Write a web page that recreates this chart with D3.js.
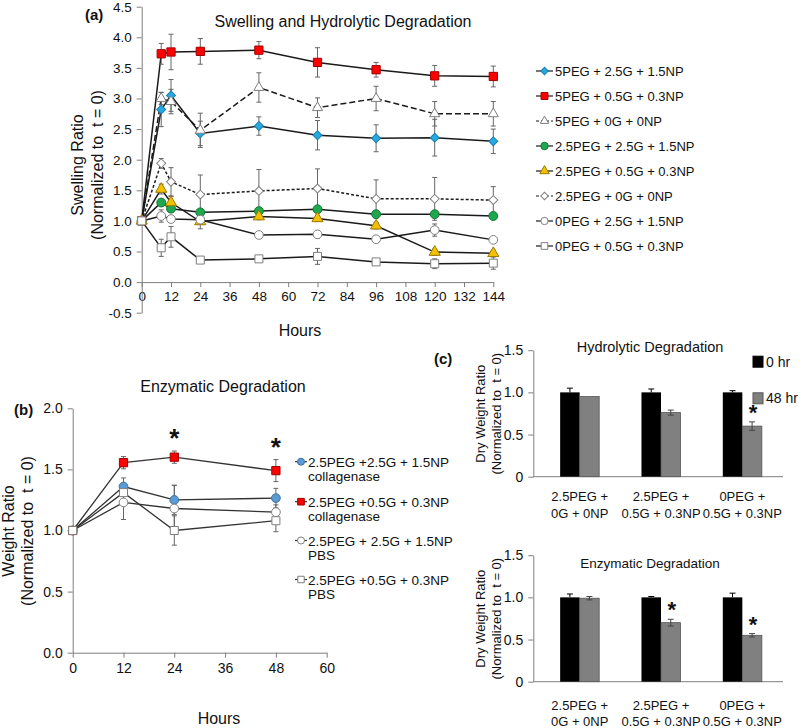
<!DOCTYPE html>
<html><head><meta charset="utf-8">
<script src="https://cdn.jsdelivr.net/npm/d3@7"></script>
<style>
body{margin:0;background:#fff;}
svg text{font-family:"Liberation Sans",Arial,sans-serif;fill:#111;}
</style></head><body>
<svg id="chart" width="800" height="728"></svg>
<script>
// ---------------- DATA ----------------
// Panel (a): swelling and hydrolytic degradation
const hoursA = [0, 8, 12, 24, 48, 72, 96, 120, 144];
const namesA = ["5PEG + 2.5G + 1.5NP", "5PEG + 0.5G + 0.3NP", "5PEG + 0G + 0NP",
  "2.5PEG + 2.5G + 1.5NP", "2.5PEG + 0.5G + 0.3NP", "2.5PEG + 0G + 0NP",
  "0PEG + 2.5G + 1.5NP", "0PEG + 0.5G + 0.3NP"];
const a_5PEG_25G = [1.0, 2.82, 3.05, 2.43, 2.55, 2.40, 2.35, 2.36, 2.30];
const a_5PEG_25G_err = [0, 0.28, 0.26, 0.20, 0.15, 0.24, 0.22, 0.30, 0.20];
const a_5PEG_05G = [1.0, 3.73, 3.76, 3.77, 3.79, 3.59, 3.47, 3.37, 3.36];
const a_5PEG_05G_err = [0, 0.17, 0.29, 0.21, 0.14, 0.24, 0.12, 0.17, 0.17];
const a_5PEG_0G = [1.0, 3.0, 2.95, 2.48, 3.18, 2.85, 3.0, 2.75, 2.75];
const a_5PEG_0G_err = [0, 0.10, 0.20, 0.28, 0.24, 0.16, 0.20, 0.20, 0.20];
const a_25PEG_25G = [1.0, 1.30, 1.20, 1.14, 1.16, 1.19, 1.11, 1.11, 1.08];
const a_25PEG_25G_err = [0, 0.05, 0.05, 0.05, 0.04, 0.05, 0.04, 0.04, 0.04];
const a_25PEG_05G = [1.0, 1.52, 1.30, 0.99, 1.07, 1.04, 0.92, 0.49, 0.47];
const a_25PEG_05G_err = [0, 0.08, 0.10, 0.12, 0.05, 0.05, 0.05, 0.05, 0.05];
const a_25PEG_0G = [1.0, 1.94, 1.64, 1.43, 1.49, 1.53, 1.36, 1.36, 1.34];
const a_25PEG_0G_err = [0, 0.08, 0.23, 0.32, 0.35, 0.32, 0.31, 0.35, 0.22];
const a_0PEG_25G = [1.0, 1.08, 1.03, 1.02, 0.77, 0.78, 0.70, 0.85, 0.69];
const a_0PEG_25G_err = [0, 0.10, 0.05, 0.05, 0.05, 0.06, 0.03, 0.10, 0.03];
const a_0PEG_05G = [1.0, 0.56, 0.74, 0.36, 0.38, 0.42, 0.33, 0.30, 0.31];
const a_0PEG_05G_err = [0, 0.14, 0.17, 0.04, 0.04, 0.13, 0.05, 0.08, 0.10];
const ticksAx = [0, 12, 24, 36, 48, 60, 72, 84, 96, 108, 120, 132, 144];
const ticksAy = [-0.5, 0, 0.5, 1, 1.5, 2, 2.5, 3, 3.5, 4, 4.5];

// Panel (b): enzymatic degradation
const hoursB = [0, 12, 24, 48];
const namesB = [["2.5PEG +2.5G + 1.5NP", "collagenase"], ["2.5PEG +0.5G + 0.3NP", "collagenase"],
  ["2.5PEG + 2.5G + 1.5NP", "PBS"], ["2.5PEG +0.5G + 0.3NP", "PBS"]];
const b_25G_col = [1.0, 1.36, 1.25, 1.265];
const b_25G_col_err = [0, 0.07, 0.12, 0.08];
const b_05G_col = [1.0, 1.555, 1.60, 1.49];
const b_05G_col_err = [0, 0.05, 0.05, 0.09];
const b_25G_pbs = [1.0, 1.23, 1.18, 1.15];
const b_25G_pbs_err = [0, 0.14, 0.19, 0.06];
const b_05G_pbs = [1.0, 1.31, 1.00, 1.08];
const b_05G_pbs_err = [0, 0.07, 0.12, 0.09];
const ticksBx = [0, 12, 24, 36, 48, 60];
const ticksBy = [0, 0.5, 1.0, 1.5, 2.0];
const starsB = [24, 48];

// Panel (c): dry weight ratio
const groupsC = [["2.5PEG +", "0G + 0NP"], ["2.5PEG +", "0.5G + 0.3NP"], ["0PEG +", "0.5G + 0.3NP"]];
const seriesC = ["0 hr", "48 hr"];
const hydro0 = [1.0, 1.0, 1.0];
const hydro0_err = [0.05, 0.04, 0.02];
const hydro48 = [0.95, 0.76, 0.60];
const hydro48_err = [0.005, 0.03, 0.05];
const enz0 = [1.0, 1.0, 1.0];
const enz0_err = [0.04, 0.01, 0.05];
const enz48 = [0.99, 0.70, 0.55];
const enz48_err = [0.02, 0.04, 0.02];
const hydroStars = [2];
const enzStars = [1, 2];
const ticksCy = [0, 0.5, 1.0, 1.5];

// ---------------- DRAW ----------------
const svg = d3.select("#chart");
const AX = "#7f7f7f";
const EB = "#666";

function styleAxis(g) {
  g.select(".domain").attr("stroke", AX).attr("stroke-width", 1);
  g.selectAll(".tick line").attr("stroke", AX).attr("stroke-width", 1);
  g.selectAll(".tick text").style("font-family", '"Liberation Sans",Arial,sans-serif').attr("fill", "#111");
}

function marker(sel, type, size, fill, stroke) {
  let s;
  if (type === "diamond" || type === "square") s = d3.symbol(d3.symbolSquare, size);
  else if (type === "triangle") s = d3.symbol(d3.symbolTriangle, size);
  else s = d3.symbol(d3.symbolCircle, size);
  sel.append("path").attr("d", s())
    .attr("fill", fill).attr("stroke", stroke).attr("stroke-width", 1)
    .attr("transform", type === "diamond" ? "rotate(45)" : null);
}

function errBar(g, x, y0, y1, color, cap, both) {
  g.append("line").attr("x1", x).attr("x2", x).attr("y1", y0).attr("y2", y1)
    .attr("stroke", color).attr("stroke-width", 1);
  g.append("line").attr("x1", x - cap).attr("x2", x + cap).attr("y1", y1).attr("y2", y1)
    .attr("stroke", color).attr("stroke-width", 1);
  if (both) g.append("line").attr("x1", x - cap).attr("x2", x + cap).attr("y1", y0).attr("y2", y0)
    .attr("stroke", color).attr("stroke-width", 1);
}

// ----- Panel (a) -----
const xA = d3.scaleLinear().domain([0, 144]).range([141.7, 493.3]);
const yA = d3.scaleLinear().domain([-0.5, 4.5]).range([312.7, 6.7]);
const serA = [
  {name: namesA[0], v: a_5PEG_25G, e: a_5PEG_25G_err, type: "diamond", size: 40, fill: "#27aae1", stroke: "#1b7eac", dash: null},
  {name: namesA[1], v: a_5PEG_05G, e: a_5PEG_05G_err, type: "square", size: 68, fill: "#ff0000", stroke: "#a00000", dash: null},
  {name: namesA[2], v: a_5PEG_0G, e: a_5PEG_0G_err, type: "triangle", size: 44, fill: "#fff", stroke: "#7f7f7f", dash: "6,3"},
  {name: namesA[3], v: a_25PEG_25G, e: a_25PEG_25G_err, type: "circle", size: 62, fill: "#1fa84e", stroke: "#127836", dash: null},
  {name: namesA[4], v: a_25PEG_05G, e: a_25PEG_05G_err, type: "triangle", size: 54, fill: "#f5c000", stroke: "#9a7a00", dash: null},
  {name: namesA[5], v: a_25PEG_0G, e: a_25PEG_0G_err, type: "diamond", size: 40, fill: "#fff", stroke: "#7f7f7f", dash: "3,2"},
  {name: namesA[6], v: a_0PEG_25G, e: a_0PEG_25G_err, type: "circle", size: 60, fill: "#fff", stroke: "#7f7f7f", dash: null},
  {name: namesA[7], v: a_0PEG_05G, e: a_0PEG_05G_err, type: "square", size: 64, fill: "#fff", stroke: "#7f7f7f", dash: null}
];
const gA = svg.append("g");
gA.append("g").attr("transform", `translate(0,${yA(0)})`)
  .call(d3.axisBottom(xA).tickValues(ticksAx).tickSize(5).tickSizeOuter(0).tickPadding(4))
  .call(styleAxis).selectAll("text").style("font-size", "13.5px");
gA.append("g").attr("transform", `translate(${xA(0)},0)`)
  .call(d3.axisLeft(yA).tickValues(ticksAy).tickSize(5).tickSizeOuter(0).tickPadding(5).tickFormat(v => v.toFixed(1)))
  .call(styleAxis).selectAll("text").style("font-size", "13.5px");
const lineA = d3.line().x((d, i) => xA(hoursA[i])).y(d => yA(d));
serA.forEach(s => {
  gA.append("path").attr("d", lineA(s.v)).attr("fill", "none").attr("stroke", "#1a1a1a")
    .attr("stroke-width", 1.5).attr("stroke-dasharray", s.dash);
});
serA.forEach(s => {
  s.v.forEach((v, i) => {
    if (s.e[i] > 0) errBar(gA, xA(hoursA[i]), yA(v - s.e[i]), yA(v + s.e[i]), EB, 2.5, true);
  });
});
serA.forEach(s => {
  s.v.forEach((v, i) => {
    const m = gA.append("g").attr("transform", `translate(${xA(hoursA[i])},${yA(v)})`);
    marker(m, s.type, s.size, s.fill, s.stroke);
  });
});
gA.append("text").attr("x", 343).attr("y", 27).attr("text-anchor", "middle")
  .style("font-size", "16px").text("Swelling and Hydrolytic Degradation");
gA.append("text").attr("x", 85).attr("y", 20).style("font-size", "15px").style("font-weight", "bold").text("(a)");
gA.append("text").attr("transform", "translate(83,165) rotate(-90)").attr("text-anchor", "middle")
  .style("font-size", "16px").text("Swelling Ratio");
gA.append("text").attr("transform", "translate(103,165) rotate(-90)").attr("text-anchor", "middle")
  .style("font-size", "16px").attr("xml:space", "preserve").text("(Normalized to  t = 0)");
gA.append("text").attr("x", 300).attr("y", 336).attr("text-anchor", "middle")
  .style("font-size", "16px").text("Hours");
// legend (a)
serA.forEach((s, i) => {
  const y = 71 + i * 25;
  gA.append("line").attr("x1", 536).attr("x2", 553).attr("y1", y).attr("y2", y)
    .attr("stroke", "#1a1a1a").attr("stroke-width", 1.2).attr("stroke-dasharray", s.dash ? "3,2" : null);
  const m = gA.append("g").attr("transform", `translate(544.5,${y})`);
  marker(m, s.type, s.size * 0.7, s.fill, s.stroke);
  gA.append("text").attr("x", 555).attr("y", y + 4.7).style("font-size", "13px").text(s.name);
});

// ----- Panel (b) -----
const xB = d3.scaleLinear().domain([0, 60]).range([72.7, 326.7]);
const yB = d3.scaleLinear().domain([0, 2]).range([652.7, 408.3]);
const serB = [
  {v: b_25G_col, e: b_25G_col_err, type: "circle", size: 60, fill: "#5b9bd5", stroke: "#41719c"},
  {v: b_05G_col, e: b_05G_col_err, type: "square", size: 68, fill: "#ff0000", stroke: "#a00000"},
  {v: b_25G_pbs, e: b_25G_pbs_err, type: "circle", size: 60, fill: "#fff", stroke: "#7f7f7f"},
  {v: b_05G_pbs, e: b_05G_pbs_err, type: "square", size: 64, fill: "#fff", stroke: "#7f7f7f"}
];
const gB = svg.append("g");
gB.append("g").attr("transform", `translate(0,${yB(0)})`)
  .call(d3.axisBottom(xB).tickValues(ticksBx).tickSize(5).tickSizeOuter(0).tickPadding(5))
  .call(styleAxis).selectAll("text").style("font-size", "14px");
gB.append("g").attr("transform", `translate(${xB(0)},0)`)
  .call(d3.axisLeft(yB).tickValues(ticksBy).tickSize(5).tickSizeOuter(0).tickPadding(5).tickFormat(v => v.toFixed(1)))
  .call(styleAxis).selectAll("text").style("font-size", "14px");
const lineB = d3.line().x((d, i) => xB(hoursB[i])).y(d => yB(d));
serB.forEach(s => {
  gB.append("path").attr("d", lineB(s.v)).attr("fill", "none").attr("stroke", "#333").attr("stroke-width", 1.3);
});
serB.forEach(s => {
  s.v.forEach((v, i) => {
    if (s.e[i] > 0) errBar(gB, xB(hoursB[i]), yB(v - s.e[i]), yB(v + s.e[i]), EB, 2.5, true);
  });
});
serB.forEach(s => {
  s.v.forEach((v, i) => {
    const m = gB.append("g").attr("transform", `translate(${xB(hoursB[i])},${yB(v)})`);
    marker(m, s.type, s.size, s.fill, s.stroke);
  });
});
starsB.forEach(h => {
  const idx = hoursB.indexOf(h);
  const top = b_05G_col[idx] + b_05G_col_err[idx];
  gB.append("text").attr("x", xB(h)).attr("y", yB(top) - 4).attr("text-anchor", "middle")
    .style("font-size", "26px").style("font-weight", "bold").text("*");
});
gB.append("text").attr("x", 223).attr("y", 392).attr("text-anchor", "middle")
  .style("font-size", "16px").text("Enzymatic Degradation");
gB.append("text").attr("x", 14).attr("y", 415).style("font-size", "15px").style("font-weight", "bold").text("(b)");
gB.append("text").attr("transform", "translate(14,531) rotate(-90)").attr("text-anchor", "middle")
  .style("font-size", "16px").text("Weight Ratio");
gB.append("text").attr("transform", "translate(33,531) rotate(-90)").attr("text-anchor", "middle")
  .style("font-size", "16px").attr("xml:space", "preserve").text("(Normalized to  t = 0)");
gB.append("text").attr("x", 219).attr("y", 724).attr("text-anchor", "middle")
  .style("font-size", "16px").text("Hours");
serB.forEach((s, i) => {
  const y = [461.7, 501.7, 540.5, 579.5][i];
  gB.append("line").attr("x1", 295).attr("x2", 307).attr("y1", y).attr("y2", y).attr("stroke", "#333").attr("stroke-width", 1.2);
  const m = gB.append("g").attr("transform", `translate(301,${y})`);
  marker(m, s.type, s.size * 0.65, s.fill, s.stroke);
  gB.append("text").attr("x", 308).attr("y", y + 5).style("font-size", "13.5px").text(namesB[i][0]);
  gB.append("text").attr("x", 308).attr("y", y + 19.5).style("font-size", "13.5px").text(namesB[i][1]);
});

// ----- Panel (c) -----
const xC = d3.scaleBand().domain(d3.range(groupsC.length)).range([539, 783]).paddingInner(0.52).paddingOuter(0.26);
function barPanel(y0px, title, titleY, titleSize, v0, e0, v48, e48, stars, starSize, labY, labGap) {
  const yC = d3.scaleLinear().domain([0, 1.5]).range([y0px, y0px - 126.5]);
  const g = svg.append("g");
  const ay = g.append("g").attr("transform", "translate(533.3,0)")
    .call(d3.axisLeft(yC).tickValues(ticksCy).tickSize(5).tickSizeOuter(0).tickPadding(5)
      .tickFormat(v => v === 0 ? "0" : v.toFixed(1)))
    .call(styleAxis);
  ay.selectAll("text").style("font-size", "14px");
  g.append("line").attr("x1", 533.3).attr("x2", 783).attr("y1", y0px).attr("y2", y0px).attr("stroke", AX);
  const bw = xC.bandwidth() / 2;
  groupsC.forEach((lab, i) => {
    const x0 = xC(i);
    errBar(g, x0 + bw / 2, yC(v0[i]), yC(v0[i] + e0[i]), "#000", 3, false);
    g.append("rect").attr("x", x0).attr("width", bw).attr("y", yC(v0[i])).attr("height", y0px - yC(v0[i]))
      .attr("fill", "#000");
    g.append("rect").attr("x", x0 + bw).attr("width", bw).attr("y", yC(v48[i])).attr("height", y0px - yC(v48[i]))
      .attr("fill", "#808080").attr("stroke", "#555").attr("stroke-width", 0.8);
    if (e48[i] > 0.006) errBar(g, x0 + bw * 1.5, yC(v48[i] - e48[i]), yC(v48[i] + e48[i]), "#444", 3, true);
    g.append("text").attr("x", x0 + bw).attr("y", labY).attr("text-anchor", "middle").style("font-size", "13px").text(lab[0]);
    g.append("text").attr("x", x0 + bw).attr("y", labY + labGap).attr("text-anchor", "middle").style("font-size", "13px").text(lab[1]);
  });
  stars.forEach(i => {
    g.append("text").attr("x", xC(i) + bw * 1.5 + 1).attr("y", yC(v48[i] + e48[i]) - 2).attr("text-anchor", "middle")
      .style("font-size", starSize + "px").style("font-weight", "bold").text("*");
  });
  g.append("text").attr("x", 650).attr("y", titleY).attr("text-anchor", "middle").style("font-size", titleSize + "px").text(title);
  const cy = y0px - 63;
  g.append("text").attr("transform", `translate(485,${cy}) rotate(-90)`).attr("text-anchor", "middle")
    .style("font-size", "13px").text("Dry Weight Ratio");
  g.append("text").attr("transform", `translate(501,${cy}) rotate(-90)`).attr("text-anchor", "middle")
    .style("font-size", "13px").attr("xml:space", "preserve").text("(Normalized to  t = 0)");
  return g;
}
const gC1 = barPanel(476.7, "Hydrolytic Degradation", 352, 14.5, hydro0, hydro0_err, hydro48, hydro48_err, hydroStars, 22, 501, 17);
const gC2 = barPanel(681.7, "Enzymatic Degradation", 568, 13.5, enz0, enz0_err, enz48, enz48_err, enzStars, 22, 710, 15.5);
gC1.append("text").attr("x", 434).attr("y", 364).style("font-size", "15px").style("font-weight", "bold").text("(c)");
// legend (c)
[["#000", "#000"], ["#808080", "#555"]].forEach((c, i) => {
  const y = [361.7, 398.3][i];
  gC1.append("rect").attr("x", 753).attr("y", y - 5.5).attr("width", 10).attr("height", 11).attr("fill", c[0]).attr("stroke", c[1]);
  gC1.append("text").attr("x", 766).attr("y", y + 5).style("font-size", "14px").text(seriesC[i]);
});
</script>
</body></html>
